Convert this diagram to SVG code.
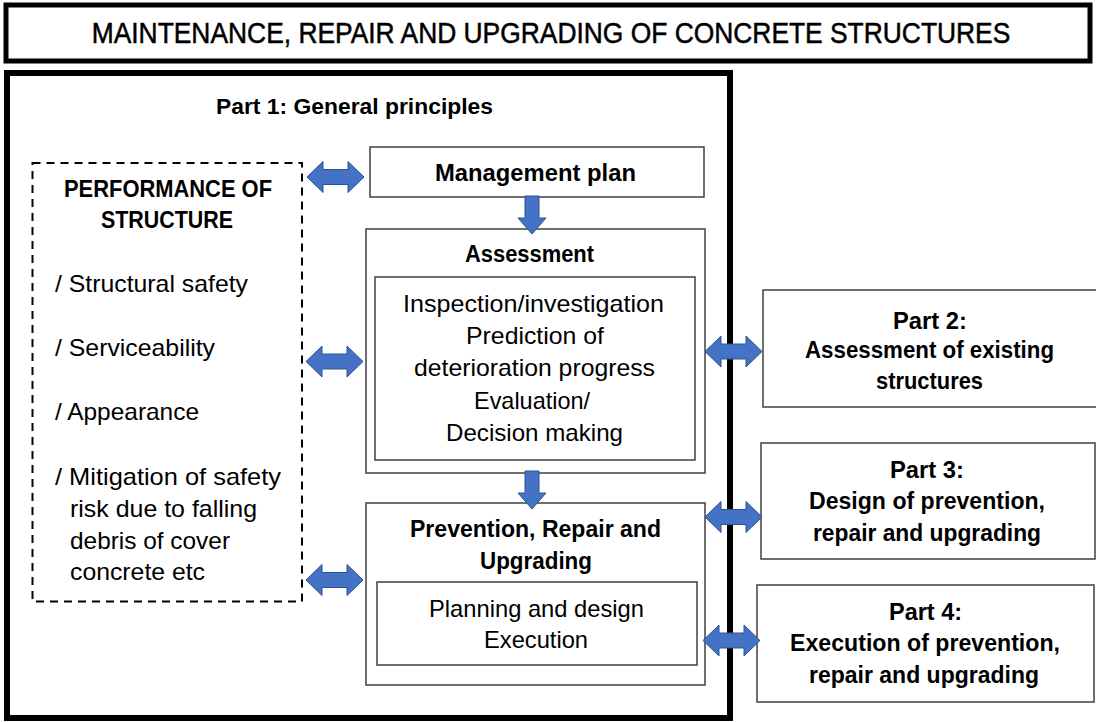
<svg xmlns="http://www.w3.org/2000/svg" width="1096" height="722" viewBox="0 0 1096 722">
<style>
text{font-family:"Liberation Sans",Arial,sans-serif;fill:#000;}
.r{font-size:24px;}
.b{font-size:23px;font-weight:bold;}
.c{text-anchor:middle;}
.box{fill:#fff;stroke:#404040;stroke-width:1.5;}
.thick{fill:#fff;stroke:#000;}
.arr{fill:#4472C4;stroke:#2F528F;stroke-width:1;}
</style>
<defs>
<path id="dbl" d="M0,0 L16,-15.5 L16,-7.5 L41,-7.5 L41,-15.5 L57,0 L41,15.5 L41,7.5 L16,7.5 L16,15.5 Z"/>
<path id="down" d="M-7,0 L7,0 L7,22 L14,22 L0,38 L-14,22 L-7,22 Z"/>
</defs>
<g id="title">
<rect class="thick" x="6" y="5" width="1084" height="56" stroke-width="5"/>
<text class="c" x="0" y="0" font-size="29" stroke="#000" stroke-width="0.5" transform="translate(551,43) scale(0.91,1)">MAINTENANCE, REPAIR AND UPGRADING OF CONCRETE STRUCTURES</text>
</g>
<g id="part1">
<rect class="thick" x="7" y="73" width="723" height="645" stroke-width="6"/>
<text x="216" y="114" font-size="22" font-weight="bold" textLength="277" lengthAdjust="spacingAndGlyphs">Part 1: General principles</text>
</g>
<g id="performance">
<rect x="32.5" y="163" width="269.5" height="438.5" fill="none" stroke="#000" stroke-width="2" stroke-dasharray="8 6"/>
<text class="b c" x="168" y="197" textLength="208" lengthAdjust="spacingAndGlyphs">PERFORMANCE OF</text>
<text class="b c" x="167" y="228" textLength="132" lengthAdjust="spacingAndGlyphs">STRUCTURE</text>
<text class="r" x="55" y="292" textLength="193" lengthAdjust="spacingAndGlyphs">/ Structural safety</text>
<text class="r" x="55" y="356" textLength="160" lengthAdjust="spacingAndGlyphs">/ Serviceability</text>
<text class="r" x="55" y="420" textLength="144" lengthAdjust="spacingAndGlyphs">/ Appearance</text>
<text class="r" x="55" y="485" textLength="226" lengthAdjust="spacingAndGlyphs">/ Mitigation of safety</text>
<text class="r" x="70" y="517" textLength="187" lengthAdjust="spacingAndGlyphs">risk due to falling</text>
<text class="r" x="70" y="549" textLength="160" lengthAdjust="spacingAndGlyphs">debris of cover</text>
<text class="r" x="70" y="580" textLength="135" lengthAdjust="spacingAndGlyphs">concrete etc</text>
</g>
<g id="management">
<rect class="box" x="370" y="147" width="334" height="50"/>
<text class="b c" x="535.5" y="181" textLength="201" lengthAdjust="spacingAndGlyphs">Management plan</text>
</g>
<g id="assessment">
<rect class="box" x="366" y="229" width="339" height="244"/>
<text class="b c" x="529.5" y="262" textLength="129" lengthAdjust="spacingAndGlyphs">Assessment</text>
<rect class="box" x="375" y="277" width="320" height="183"/>
<text class="r c" x="533.5" y="312" textLength="261" lengthAdjust="spacingAndGlyphs">Inspection/investigation</text>
<text class="r c" x="535" y="344" textLength="138" lengthAdjust="spacingAndGlyphs">Prediction of</text>
<text class="r c" x="534.5" y="376" textLength="241" lengthAdjust="spacingAndGlyphs">deterioration progress</text>
<text class="r c" x="532" y="409" textLength="116" lengthAdjust="spacingAndGlyphs">Evaluation/</text>
<text class="r c" x="534.5" y="441" textLength="177" lengthAdjust="spacingAndGlyphs">Decision making</text>
</g>
<g id="prevention">
<rect class="box" x="366" y="503" width="339" height="182"/>
<text class="b c" x="535.5" y="537" textLength="251" lengthAdjust="spacingAndGlyphs">Prevention, Repair and</text>
<text class="b c" x="536" y="569" textLength="112" lengthAdjust="spacingAndGlyphs">Upgrading</text>
<rect class="box" x="377" y="582" width="320" height="83"/>
<text class="r c" x="536.5" y="617" textLength="215" lengthAdjust="spacingAndGlyphs">Planning and design</text>
<text class="r c" x="536" y="648" textLength="104" lengthAdjust="spacingAndGlyphs">Execution</text>
</g>
<g id="part2">
<rect class="box" x="763" y="290" width="340" height="117"/>
<text class="b c" x="930" y="329" textLength="74" lengthAdjust="spacingAndGlyphs">Part 2:</text>
<text class="b c" x="929.5" y="358" textLength="249" lengthAdjust="spacingAndGlyphs">Assessment of existing</text>
<text class="b c" x="929.5" y="389" textLength="107" lengthAdjust="spacingAndGlyphs">structures</text>
</g>
<g id="part3">
<rect class="box" x="761" y="443" width="334" height="116"/>
<text class="b c" x="927" y="478" textLength="74" lengthAdjust="spacingAndGlyphs">Part 3:</text>
<text class="b c" x="927" y="509" textLength="236" lengthAdjust="spacingAndGlyphs">Design of prevention,</text>
<text class="b c" x="927" y="541" textLength="228" lengthAdjust="spacingAndGlyphs">repair and upgrading</text>
</g>
<g id="part4">
<rect class="box" x="757" y="585" width="337" height="117"/>
<text class="b c" x="925.5" y="620" textLength="73" lengthAdjust="spacingAndGlyphs">Part 4:</text>
<text class="b c" x="925" y="651" textLength="270" lengthAdjust="spacingAndGlyphs">Execution of prevention,</text>
<text class="b c" x="924" y="683" textLength="230" lengthAdjust="spacingAndGlyphs">repair and upgrading</text>
</g>
<g id="connectors">
<use href="#dbl" class="arr" transform="translate(307,177)"/>
<use href="#dbl" class="arr" transform="translate(306,361.5)"/>
<use href="#dbl" class="arr" transform="translate(306,580)"/>
<use href="#dbl" class="arr" transform="translate(705,351.5)"/>
<use href="#dbl" class="arr" transform="translate(705,517)"/>
<use href="#dbl" class="arr" transform="translate(703,640.5)"/>
<use href="#down" class="arr" transform="translate(532,196)"/>
<use href="#down" class="arr" transform="translate(532,471)"/>
</g>
</svg>
